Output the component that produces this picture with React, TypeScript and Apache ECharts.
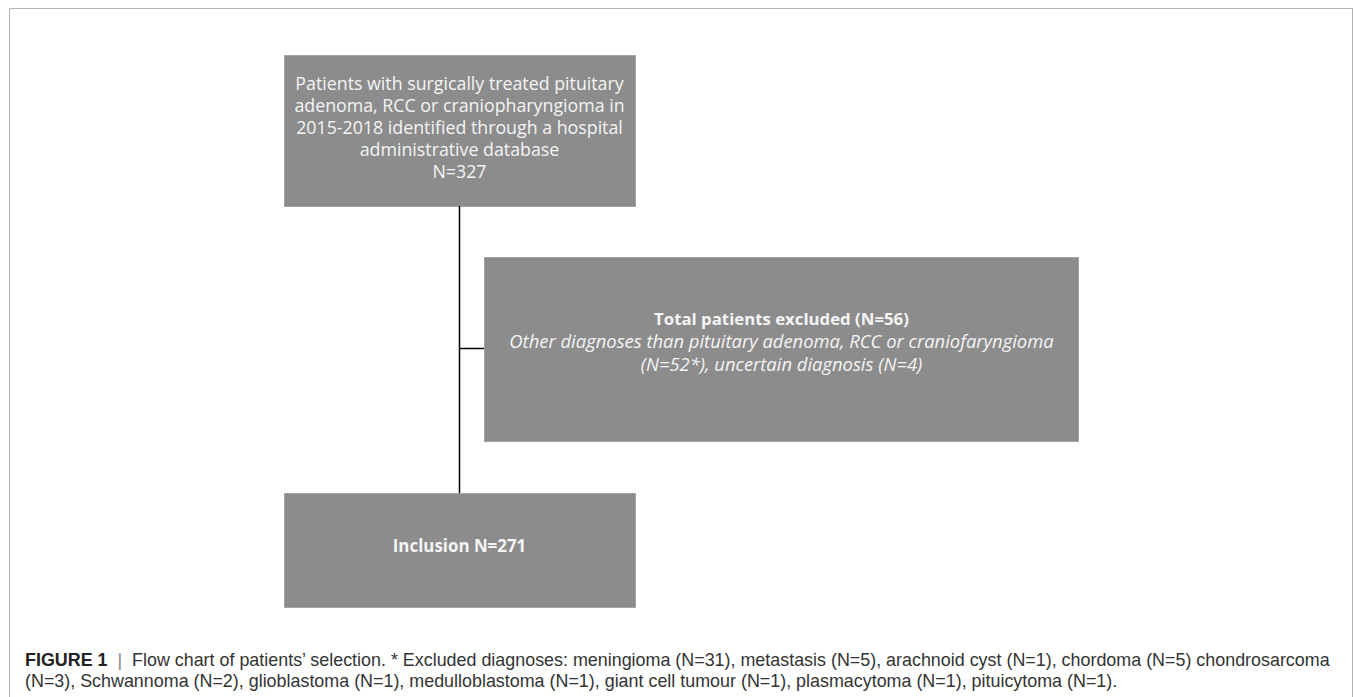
import React, { useEffect, useRef } from "react";
import * as echarts from "echarts";

// ---- data ----
const screenedN = 327;
const excludedN = 56;
const otherDiagnosesN = 52;
const uncertainN = 4;
const includedN = 271;
const excludedDiagnoses: string[] = [
  "meningioma", "metastasis", "arachnoid cyst", "chordoma", "chondrosarcoma",
  "Schwannoma", "glioblastoma", "medulloblastoma", "giant cell tumour", "plasmacytoma", "pituicytoma",
];
const excludedCounts: number[] = [31, 5, 1, 5, 3, 2, 1, 1, 1, 1, 1];

const BOX_FONT = '"Open Sans", "Noto Sans", sans-serif';
const CAP_FONT = '"Liberation Sans", Arial, sans-serif';
const BOX_FILL = "#8c8c8c";
const BOX_STROKE = "#a3a3a3";
const BOX_TEXT = "#f4f4f4";

export default function App() {
  const ref = useRef<HTMLDivElement>(null);
  useEffect(() => {
    document.body.style.margin = "0";
    const chart = echarts.init(ref.current!, null, { renderer: "svg" });

    const box1Lines = [
      "Patients with surgically treated pituitary",
      "adenoma, RCC or craniopharyngioma in",
      "2015-2018 identified through a hospital",
      "administrative database",
      `N=${screenedN}`,
    ];
    const items = excludedDiagnoses.map((d, i) => `${d} (N=${excludedCounts[i]})`);
    // caption wrapping as in the original (no comma after chordoma)
    const capLine1Items = items.slice(0, 4);
    const capLine1 =
      "Flow chart of patients\u2019 selection. * Excluded diagnoses: " +
      capLine1Items.slice(0, 3).join(", ") + ", " + capLine1Items[3] + " " + excludedDiagnoses[4];
    const capLine2 = `(N=${excludedCounts[4]}), ` + items.slice(5).join(", ") + ".";

    const rect = (x: number, y: number, w: number, h: number) => ({
      type: "rect",
      shape: { x: x + 0.5, y: y + 0.5, width: w, height: h },
      style: { fill: BOX_FILL, stroke: BOX_STROKE, lineWidth: 1 },
    });

    chart.setOption({
      animation: false,
      backgroundColor: "#ffffff",
      graphic: [
        {
          type: "rect",
          shape: { x: 9.5, y: 8.5, width: 1343, height: 730 },
          style: { fill: "#ffffff", stroke: "#b4b4b4", lineWidth: 1 },
        },
        rect(284, 55, 351, 151),
        rect(484, 257, 594, 184),
        rect(284, 493, 351, 114),
        {
          type: "line",
          shape: { x1: 459.5, y1: 206, x2: 459.5, y2: 493 },
          style: { stroke: "#000000", lineWidth: 1.5 },
        },
        {
          type: "line",
          shape: { x1: 459.5, y1: 348.5, x2: 484, y2: 348.5 },
          style: { stroke: "#000000", lineWidth: 1.5 },
        },
        {
          type: "text",
          x: 459.5,
          y: 127,
          style: {
            text: box1Lines.join("\n"),
            align: "center",
            verticalAlign: "middle",
            fontFamily: BOX_FONT,
            fontSize: 17.8,
            lineHeight: 22,
            fill: BOX_TEXT,
          },
        },
        {
          type: "text",
          x: 781.5,
          y: 341,
          style: {
            text:
              `{t|Total patients excluded (N=${excludedN})}\n` +
              "{i|Other diagnoses than pituitary adenoma, RCC or craniofaryngioma}\n" +
              `{i|(N=${otherDiagnosesN}*), uncertain diagnosis (N=${uncertainN})}`,
            align: "center",
            verticalAlign: "middle",
            fontFamily: BOX_FONT,
            fill: BOX_TEXT,
            rich: {
              t: {
                fontFamily: BOX_FONT,
                fontWeight: "bold",
                fontSize: 16.8,
                lineHeight: 22,
                fill: BOX_TEXT,
                align: "center",
              },
              i: {
                fontFamily: BOX_FONT,
                fontStyle: "italic",
                fontSize: 18.4,
                lineHeight: 23,
                fill: BOX_TEXT,
                align: "center",
              },
            },
          },
        },
        {
          type: "text",
          x: 459.5,
          y: 545,
          style: {
            text: `Inclusion N=${includedN}`,
            align: "center",
            verticalAlign: "middle",
            fontFamily: BOX_FONT,
            fontWeight: "bold",
            fontSize: 16.9,
            fill: BOX_TEXT,
          },
        },
        {
          type: "text",
          x: 25,
          y: 670.5,
          style: {
            text: "{b|FIGURE 1}  {s||}  {r|" + capLine1 + "}\n{r|" + capLine2 + "}",
            align: "left",
            verticalAlign: "middle",
            fontFamily: CAP_FONT,
            fontSize: 17.9,
            lineHeight: 21,
            fill: "#333333",
            rich: {
              b: { fontFamily: CAP_FONT, fontSize: 17.9, lineHeight: 21, fontWeight: "bold", fill: "#222222" },
              s: { fontFamily: CAP_FONT, fontSize: 17.9, lineHeight: 21, fill: "#888888" },
              r: { fontFamily: CAP_FONT, fontSize: 17.9, lineHeight: 21, fill: "#333333" },
            },
          },
        },
      ],
    });
    return () => chart.dispose();
  }, []);
  return <div ref={ref} style={{ width: 1355, height: 697 }} />;
}
